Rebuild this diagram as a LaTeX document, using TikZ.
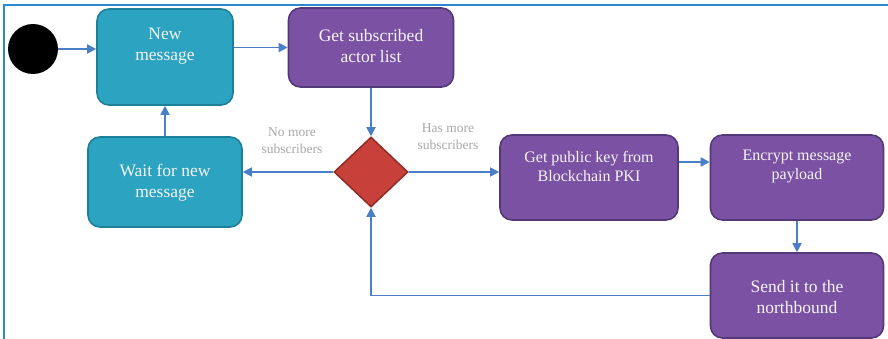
\documentclass[tikz,border=0pt]{standalone}
\usepackage{fontspec}
\setmainfont{Liberation Serif}
\usetikzlibrary{shapes.geometric,arrows.meta}
\definecolor{tealfill}{HTML}{2CA3C0}
\definecolor{tealline}{HTML}{1E8098}
\definecolor{purpfill}{HTML}{7B52A3}
\definecolor{purpline}{HTML}{553878}
\definecolor{redfill}{HTML}{C8403A}
\definecolor{redline}{HTML}{912B27}
\definecolor{arrowblue}{HTML}{4A7FC8}
\definecolor{framebl}{HTML}{2B88D2}
\definecolor{lblgray}{HTML}{A8A8A8}
\definecolor{txtwhite}{HTML}{F4F4F4}
\tikzset{
  tealbox/.style={rectangle, rounded corners=12pt, fill=tealfill, draw=tealline, line width=1.6pt, inner sep=0pt},
  purpbox/.style={rectangle, rounded corners=12pt, fill=purpfill, draw=purpline, line width=1.6pt, inner sep=0pt},
  boxtxt/.style={text=txtwhite, align=center, font=\fontsize{17.5}{21}\selectfont, inner sep=0pt},
  smalltxt/.style={text=txtwhite, align=center, font=\fontsize{16}{19}\selectfont, inner sep=0pt},
  lbl/.style={text=lblgray, align=center, font=\fontsize{13.5}{17}\selectfont, inner sep=0pt},
  arr/.style={draw=arrowblue, line width=1.7pt, -{Triangle[length=9pt,width=9pt]}}
}
\begin{document}
\begin{tikzpicture}[x=1pt,y=-1pt]
\useasboundingbox (0,0) rectangle (888,339);
\draw[framebl, line width=1.8pt] (4,339) -- (4,5) -- (888,5);

\node[circle, fill=black, minimum size=50pt, inner sep=0pt] (start) at (33,49) {};

\node[tealbox, minimum width=136pt, minimum height=96pt] (new) at (165,57) {};
\node[boxtxt] (newtxt) at (165,46) {New\\message};

\node[purpbox, minimum width=165pt, minimum height=79pt] (get) at (371,47.5) {};
\node[boxtxt] (gettxt) at (371,46) {Get subscribed\\actor list};

\node[tealbox, minimum width=154pt, minimum height=90pt] (wait) at (165,182) {};
\node[boxtxt] (waittxt) at (165,183) {Wait for new\\message};

\node[diamond, fill=redfill, draw=redline, line width=1.5pt, minimum width=74pt, minimum height=70pt, inner sep=0pt] (dec) at (371,172) {};

\node[purpbox, minimum width=178pt, minimum height=85pt] (pub) at (589,177.5) {};
\node[smalltxt] (pubtxt) at (589,166) {Get public key from\\Blockchain PKI};

\node[purpbox, minimum width=173pt, minimum height=85pt] (enc) at (797,177.5) {};
\node[smalltxt] (enctxt) at (797,166) {Encrypt message\\payload};

\node[purpbox, minimum width=173pt, minimum height=85pt] (send) at (797,295.5) {};
\node[boxtxt] (sendtxt) at (797,297) {Send it to the\\northbound};

\node[lbl] (nomore) at (292,141) {No more\\subscribers};
\node[lbl] (hasmore) at (448,137) {Has more\\subscribers};

\draw[arr] (start.east) -- (start.east -| new.west);
\draw[arr] (get.west -| new.east) -- (get.west);
\draw[arr] (get.south) -- (dec.north);
\draw[arr] (wait.north) -- (new.south);
\draw[arr] (dec.west) -- (dec.west -| wait.east);
\draw[arr] (dec.east) -- (dec.east -| pub.west);
\draw[arr] ([yshift=15.5pt]pub.east) -- ([yshift=15.5pt]enc.west);
\draw[arr] (enc.south) -- (send.north);
\draw[arr] (send.west) -| (dec.south);
\end{tikzpicture}
\end{document}
